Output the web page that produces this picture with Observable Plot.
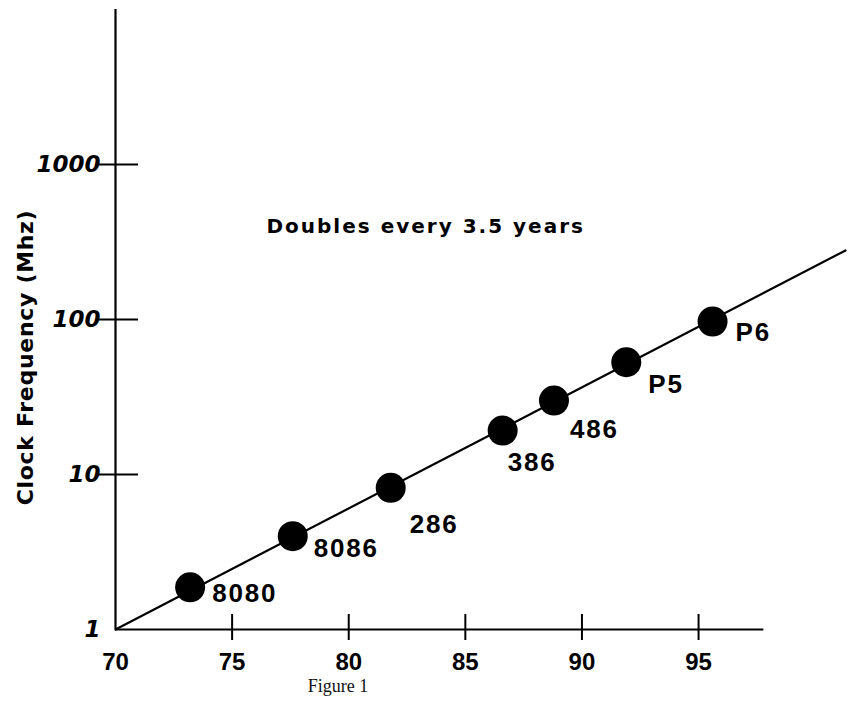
<!DOCTYPE html>
<html><head><meta charset="utf-8">
<script src="https://cdn.jsdelivr.net/npm/d3@7"></script>
<script src="https://cdn.jsdelivr.net/npm/@observablehq/plot@0.6"></script>
<style>
body{margin:0;background:#fff;}
#chart{width:853px;}
#chart svg{overflow:visible;display:block;}
.caption{font-family:"Liberation Serif","Times New Roman",serif;font-size:18px;line-height:20px;color:#111;width:853px;}
.caption span{display:inline-block;position:relative;left:338px;transform:translateX(-50%);}
</style></head><body>
<div id="chart"></div>
<div class="caption"><span id="cap"></span></div>
<script>
// ---- data ----
const chips = ["8080", "8086", "286", "386", "486", "P5", "P6"];
const years = [73.2, 77.6, 81.8, 86.6, 88.8, 91.9, 95.6];
const mhz = [1.87, 4.0, 8.2, 19.2, 30, 53, 97];
const trendYears = [70, 101.3];
const trendMhz = [1, 279];
const xTicks = [70, 75, 80, 85, 90, 95];
const yTicks = [1, 10, 100, 1000];
const annotationText = "Doubles every 3.5 years";
const annotationYear = [83.3];
const annotationMhz = [400];
const yLabel = "Clock Frequency (Mhz)";
const captionText = "Figure 1";

// ---- layout (pixel offsets of chip labels from their dots) ----
const labelOffsets = [[22, 6], [21, 12], [19, 37], [5, 32], [16, 29], [22, 22], [23, 11]];

const numFont = "'Liberation Sans', Arial, Helvetica, sans-serif";
const heavyFont = "'DejaVu Sans', Verdana, sans-serif";

const idx = chips.map((_, i) => i);
const trend = trendYears.map((y, i) => ({year: y, mhz: trendMhz[i]}));

const chart = Plot.plot({
  width: 853,
  height: 676,
  marginLeft: 115,
  marginRight: 8,
  marginTop: 9,
  marginBottom: 47,
  style: {background: "#fff", color: "#000"},
  x: {domain: [70, 101.3]},
  y: {type: "log", domain: [1, 10000]},
  marks: [
    // axis lines
    Plot.ruleX([xTicks[0]], {y1: yTicks[0], y2: 10000, stroke: "#000", strokeWidth: 2.2}),
    Plot.ruleY([yTicks[0]], {x1: xTicks[0], x2: 97.8, stroke: "#000", strokeWidth: 2.2}),
    // tick marks crossing the axes
    Plot.ruleY(yTicks.slice(1), {y: d => d, x1: () => xTicks[0], x2: () => xTicks[0], insetLeft: -21, insetRight: -21, dx: 2, stroke: "#000", strokeWidth: 2}),
    Plot.ruleX(xTicks.slice(1), {x: d => d, y1: () => yTicks[0], y2: () => yTicks[0], insetTop: -13, insetBottom: -13, dy: -2, stroke: "#000", strokeWidth: 2}),
    // tick labels
    Plot.axisX({ticks: xTicks, tickSize: 0, tickPadding: 23, label: null, tickFormat: d => String(d),
      fontSize: 24, fontWeight: "bold", fontFamily: numFont, fill: "#000"}),
    Plot.axisY({ticks: yTicks, tickSize: 0, tickPadding: 15, label: null, tickFormat: d => String(d),
      fontSize: 23, fontWeight: "bold", fontFamily: heavyFont, fontStyle: "italic", fill: "#000"}),
    // y label
    Plot.text([yLabel], {frameAnchor: "left", text: d => d, rotate: -90, dx: -90, dy: 38, textAnchor: "middle",
      fontSize: 22, fontWeight: "bold", fontFamily: heavyFont, fill: "#000"}),
    // trend line
    Plot.line(trend, {x: "year", y: "mhz", stroke: "#000", strokeWidth: 2.2}),
    // points
    Plot.dot(idx, {x: i => years[i], y: i => mhz[i], r: 15, fill: "#000", stroke: "none"}),
    // chip labels
    ...idx.map(i => Plot.text([i], {x: j => years[j], y: j => mhz[j], text: j => chips[j],
      dx: labelOffsets[i][0], dy: labelOffsets[i][1], textAnchor: "start",
      fontSize: 26, fontWeight: "bold", fontFamily: numFont, fill: "#000"})),
    // annotation
    Plot.text([0], {x: j => annotationYear[j], y: j => annotationMhz[j], text: () => annotationText,
      fontSize: 20, fontWeight: "bold", fontFamily: heavyFont, fill: "#000"})
  ]
});
// letter spacing (not a Plot text option) applied to the rendered text elements
const svg = d3.select(chart);
svg.selectAll("text").filter(function() { return this.textContent === annotationText; }).style("letter-spacing", "2px");
svg.selectAll("text").filter(function() { return this.textContent === yLabel; }).style("letter-spacing", "0.7px");
svg.selectAll("text").filter(function() { return chips.includes(this.textContent); }).style("letter-spacing", "1.8px");
document.getElementById("chart").appendChild(chart);
document.getElementById("cap").textContent = captionText;
</script>
</body></html>
